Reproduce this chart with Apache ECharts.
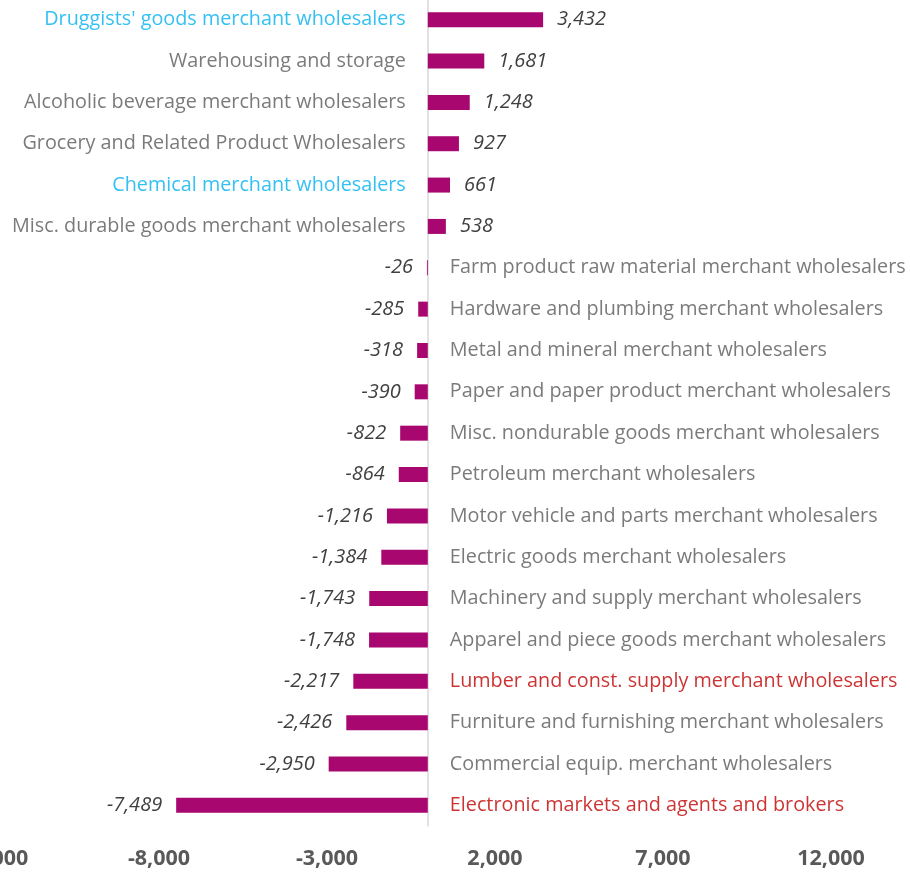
<!DOCTYPE html>
<html>
<head>
<meta charset="utf-8">
<script src="https://cdn.jsdelivr.net/npm/echarts@6/dist/echarts.min.js"></script>
<style>
  html, body { margin: 0; padding: 0; background: #fff; }
  #chart { width: 910px; height: 872px; }
</style>
</head>
<body>
<div id="chart"></div>
<script>
var categories = [
  "Druggists' goods merchant wholesalers",
  'Warehousing and storage',
  'Alcoholic beverage merchant wholesalers',
  'Grocery and Related Product Wholesalers',
  'Chemical merchant wholesalers',
  'Misc. durable goods merchant wholesalers',
  'Farm product raw material merchant wholesalers',
  'Hardware and plumbing merchant wholesalers',
  'Metal and mineral merchant wholesalers',
  'Paper and paper product merchant wholesalers',
  'Misc. nondurable goods merchant wholesalers',
  'Petroleum merchant wholesalers',
  'Motor vehicle and parts merchant wholesalers',
  'Electric goods merchant wholesalers',
  'Machinery and supply merchant wholesalers',
  'Apparel and piece goods merchant wholesalers',
  'Lumber and const. supply merchant wholesalers',
  'Furniture and furnishing merchant wholesalers',
  'Commercial equip. merchant wholesalers',
  'Electronic markets and agents and brokers'
];
var values = [3432, 1681, 1248, 927, 661, 538, -26, -285, -318, -390, -822, -864,
  -1216, -1384, -1743, -1748, -2217, -2426, -2950, -7489];
var xTicks = [-13000, -8000, -3000, 2000, 7000, 12000];

// highlighted category names
var blueCats = ["Druggists' goods merchant wholesalers", 'Chemical merchant wholesalers'];
var redCats = ['Lumber and const. supply merchant wholesalers', 'Electronic markets and agents and brokers'];

function fmt(v) {
  var s = Math.abs(v).toString().replace(/\B(?=(\d{3})+(?!\d))/g, ',');
  return (v < 0 ? '-' : '') + s;
}

var barData = values.map(function (v) {
  return { value: v, label: { position: v < 0 ? 'left' : 'right' } };
});

var nameData = categories.map(function (c, i) {
  var col = '#595959';
  if (blueCats.indexOf(c) >= 0) col = '#00b0f0';
  if (redCats.indexOf(c) >= 0) col = '#c00000';
  return {
    value: [0, c],
    label: { position: values[i] < 0 ? 'right' : 'left', color: col }
  };
});

var chart = echarts.init(document.getElementById('chart'));
chart.setOption({
  animation: false,
  grid: { left: -9, right: 79, top: -1, bottom: 46, containLabel: false, outerBoundsMode: 'none' },
  xAxis: {
    type: 'value',
    min: xTicks[0],
    max: xTicks[xTicks.length - 1],
    interval: 5000,
    splitLine: { show: false },
    axisLine: { show: false },
    axisTick: { show: false },
    axisLabel: {
      margin: 22,
      fontFamily: 'Open Sans',
      fontWeight: 'bold',
      fontSize: 21.5,
      color: '#595959',
      formatter: fmt
    }
  },
  yAxis: {
    type: 'category',
    data: categories,
    inverse: true,
    axisTick: { show: false },
    axisLabel: { show: false },
    axisLine: { lineStyle: { color: '#d9d9d9', width: 1.5 } }
  },
  series: [{
    type: 'bar',
    data: barData,
    barWidth: 15,
    itemStyle: { color: '#a8076f' },
    label: {
      show: true,
      distance: 14,
      fontFamily: 'Open Sans',
      fontStyle: 'italic',
      fontSize: 20,
      color: '#404040',
      formatter: function (p) { return fmt(p.value); }
    }
  }, {
    type: 'scatter',
    data: nameData,
    symbolSize: 0,
    silent: true,
    label: {
      show: true,
      distance: 22,
      fontFamily: 'Open Sans',
      fontSize: 19.8,
      formatter: function (p) { return p.value[1]; }
    }
  }]
});
</script>
</body>
</html>
